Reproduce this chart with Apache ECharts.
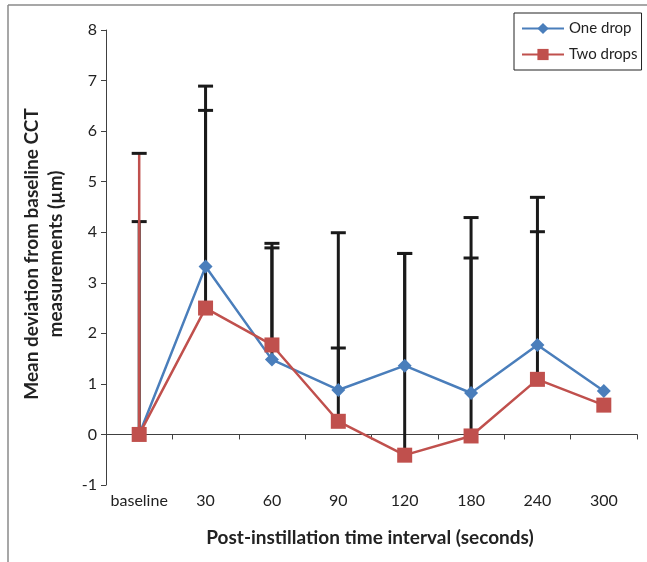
<!DOCTYPE html>
<html>
<head>
<meta charset="utf-8">
<script src="https://cdn.jsdelivr.net/npm/echarts@6/dist/echarts.min.js"></script>
<style>html,body{margin:0;padding:0;background:#fff;}#chart{width:647px;height:562px;}</style>
</head>
<body>
<div id="chart"></div>
<script>
var categories = ['baseline', '30', '60', '90', '120', '180', '240', '300'];
var oneDrop = [0, 3.32, 1.48, 0.88, 1.36, 0.82, 1.77, 0.86];
var twoDrops = [0, 2.5, 1.77, 0.26, -0.41, -0.03, 1.09, 0.58];
var oneDropUpper = [4.21, 6.89, 3.78, 3.99, 3.58, 4.29, 4.69, null];
var twoDropsUpper = [5.56, 6.41, 3.69, 1.71, 3.58, 3.49, 4.01, null];
var yTicks = [-1, 0, 1, 2, 3, 4, 5, 6, 7, 8];

var FONT = 'Lato';

function errData(means, uppers) {
  var d = [];
  for (var i = 0; i < means.length; i++) {
    if (uppers[i] != null) d.push([i, means[i], uppers[i]]);
  }
  return d;
}

function makeRender(isTwo) {
  return function (params, api) {
    var i = api.value(0);
    var lo = api.coord([i, api.value(1)]);
    var hi = api.coord([i, api.value(2)]);
    var color = (isTwo && i === 0) ? '#C0504D' : '#1a1a1a';
    var w = (isTwo && i === 0) ? 2.5 : 3;
    return {
      type: 'group',
      children: [
        { type: 'line', shape: { x1: lo[0], y1: lo[1], x2: hi[0], y2: hi[1] }, style: { stroke: color, lineWidth: w } },
        { type: 'line', shape: { x1: hi[0] - 7.5, y1: hi[1], x2: hi[0] + 7.5, y2: hi[1] }, style: { stroke: '#1a1a1a', lineWidth: 3 } }
      ]
    };
  };
}

var chart = echarts.init(document.getElementById('chart'));
chart.setOption({
  animation: false,
  textStyle: { fontFamily: FONT },
  grid: { left: 106, right: 10, top: 30, bottom: 77, containLabel: false },
  legend: {
    orient: 'vertical',
    left: 514, top: 13,
    padding: [8, 4, 8, 7],
    itemWidth: 42, itemHeight: 14, itemGap: 11,
    backgroundColor: '#fff',
    borderColor: '#222', borderWidth: 1,
    textStyle: { fontFamily: FONT, fontSize: 15, color: '#222' },
    data: ['One drop', 'Two drops']
  },
  xAxis: [
    {
      type: 'category', data: categories,
      axisLine: { onZero: true, lineStyle: { color: '#404040', width: 1 } },
      axisTick: { show: true, length: 5, lineStyle: { color: '#404040' } },
      axisLabel: { show: false },
      splitLine: { show: false }
    },
    {
      type: 'category', data: categories, position: 'bottom',
      axisLine: { show: false, onZero: false },
      axisTick: { show: false },
      axisLabel: { show: true, interval: 0, margin: 8, fontFamily: FONT, fontSize: 16, color: '#222' },
      splitLine: { show: false }
    }
  ],
  yAxis: {
    type: 'value', min: yTicks[0], max: yTicks[yTicks.length - 1], interval: 1,
    axisLine: { show: true, lineStyle: { color: '#404040', width: 1 } },
    axisTick: { show: true, length: 5, lineStyle: { color: '#404040' } },
    axisLabel: { margin: 9, fontFamily: FONT, fontSize: 16, color: '#222' },
    splitLine: { show: false }
  },
  series: [
    {
      type: 'custom', name: 'errOne', xAxisIndex: 0, z: 1,
      renderItem: makeRender(false), data: errData(oneDrop, oneDropUpper),
      encode: { x: 0, y: [1, 2] }, silent: true
    },
    {
      type: 'custom', name: 'errTwo', xAxisIndex: 0, z: 1,
      renderItem: makeRender(true), data: errData(twoDrops, twoDropsUpper),
      encode: { x: 0, y: [1, 2] }, silent: true
    },
    {
      type: 'line', name: 'One drop', xAxisIndex: 0, data: oneDrop, z: 3,
      symbol: 'diamond', symbolSize: 14,
      lineStyle: { color: '#4A7EBB', width: 2.5 },
      itemStyle: { color: '#4A7EBB' }
    },
    {
      type: 'line', name: 'Two drops', xAxisIndex: 0, data: twoDrops, z: 4,
      symbol: 'rect', symbolSize: 15,
      lineStyle: { color: '#C0504D', width: 2.5 },
      itemStyle: { color: '#C0504D' }
    }
  ],
  graphic: [
    { type: 'line', shape: { x1: 8, y1: 5, x2: 647, y2: 5 }, style: { stroke: '#8a8a8a', lineWidth: 1.5 } },
    { type: 'line', shape: { x1: 8, y1: 5, x2: 8, y2: 562 }, style: { stroke: '#8a8a8a', lineWidth: 1.5 } },
    {
      type: 'text', x: 44, y: 254, rotation: Math.PI / 2,
      style: {
        text: 'Mean deviation from baseline CCT\nmeasurements (µm)',
        font: 'bold 19px ' + FONT, fill: '#222',
        textAlign: 'center', textVerticalAlign: 'middle', lineHeight: 24
      }
    },
    {
      type: 'text', x: 370, y: 538,
      style: {
        text: 'Post-instillation time interval (seconds)',
        font: 'bold 19px ' + FONT, fill: '#222',
        textAlign: 'center', textVerticalAlign: 'middle'
      }
    }
  ]
});
</script>
</body>
</html>
